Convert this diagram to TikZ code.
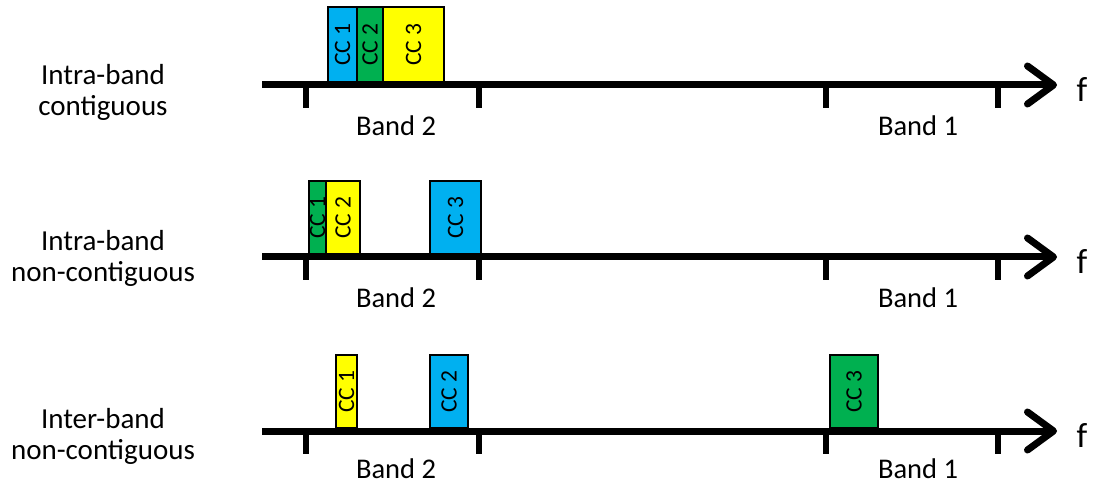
\documentclass[tikz,border=0pt]{standalone}
\usepackage{fontspec}
\setmainfont{Carlito}
\usetikzlibrary{arrows.meta}
\definecolor{ccblue}{RGB}{0,176,240}
\definecolor{ccgreen}{RGB}{0,176,80}
\definecolor{ccyellow}{RGB}{255,255,0}
\newcommand\ccbox[7]{%
  \node[ccstyle, fill=#6, rotate=90, minimum width={(#5-#4)*1pt}, minimum height={(#3-#2)*1pt}]
    (#1) at ({(#2+#3)/2},{(#4+#5)/2}) {#7};}
\newcommand\freqaxis[3]{% name, axis y, band label offset
  \coordinate (#1s) at (262,#2);
  \coordinate (#1e) at (1057,#2);
  \draw[axisline] (#1s) -- (#1e);
  \foreach \tx/\tn in {306/a,479/b,826/c,998/d}{
    \coordinate (#1t\tn) at (\tx,#2-2);
    \coordinate (#1u\tn) at (\tx,#2+23);
    \draw[tickline] (#1t\tn) -- (#1u\tn);
  }
  \node[flbl] (#1f) at (1082,#2+5) {f};
  \node[lbl] (#1b2) at (396,#2+#3) {Band 2};
  \node[lbl] (#1b1) at (918,#2+#3) {Band 1};
}
\begin{document}
\begin{tikzpicture}[x=1pt,y=-1pt,
  ccstyle/.style={draw=black, line width=2pt, inner sep=0pt, font=\fontsize{23.5}{27}\selectfont},
  axisline/.style={line width=7pt, -{Straight Barb[length=26pt,width=38pt,round]}},
  tickline/.style={line width=5.5pt},
  lbl/.style={font=\fontsize{28.5}{32}\selectfont, inner sep=0pt},
  flbl/.style={font=\fontsize{35}{40}\selectfont, inner sep=0pt},
  rowlbl/.style={font=\fontsize{29}{31}\selectfont, inner sep=0pt, align=center}]
\useasboundingbox (0,0) rectangle (1098,486);
% row 1
\freqaxis{r1}{85}{41}
\ccbox{r1c1}{328}{357}{7}{82}{ccblue}{CC 1}
\ccbox{r1c2}{357}{383}{7}{82}{ccgreen}{CC 2}
\ccbox{r1c3}{383}{444}{7}{82}{ccyellow}{CC 3}
\node[rowlbl] (r1l) at (103,92) {Intra-band\\contiguous};
% row 2
\freqaxis{r2}{257}{41}
\ccbox{r2c1}{309}{326}{181}{254}{ccgreen}{CC 1}
\ccbox{r2c2}{326}{360}{181}{254}{ccyellow}{CC 2}
\ccbox{r2c3}{430}{481}{181}{254}{ccblue}{CC 3}
\node[rowlbl] (r2l) at (103,258) {Intra-band\\non-contiguous};
% row 3
\freqaxis{r3}{431}{38}
\ccbox{r3c1}{336}{357}{355}{428}{ccyellow}{CC 1}
\ccbox{r3c2}{430}{468}{355}{428}{ccblue}{CC 2}
\ccbox{r3c3}{830}{878}{355}{428}{ccgreen}{CC 3}
\node[rowlbl] (r3l) at (103,436) {Inter-band\\non-contiguous};
\end{tikzpicture}
\end{document}
